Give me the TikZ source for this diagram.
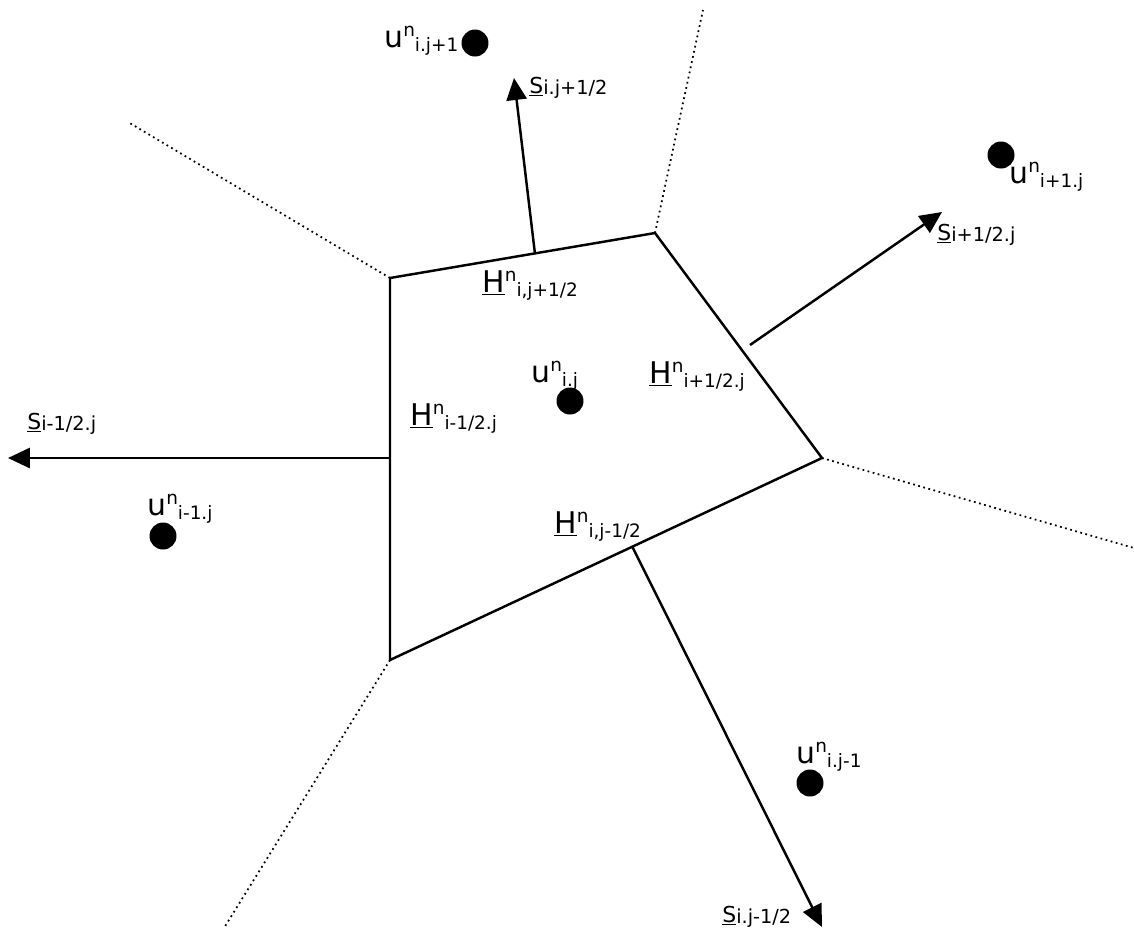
\documentclass[tikz,border=0pt]{standalone}
\usepackage{fontspec}
\setmainfont{DejaVu Sans}
\usetikzlibrary{arrows.meta}
\newcommand{\idxfont}{\fontsize{10.5}{12.5}\selectfont}
\newcommand{\ulab}[1]{u\raisebox{0.36em}{\idxfont n}\raisebox{-0.14em}{\idxfont #1}}
\newcommand{\hlab}[1]{\underline{H}\raisebox{0.36em}{\idxfont n}\raisebox{-0.14em}{\idxfont #1}}
\newcommand{\slab}[1]{{\fontsize{12.5}{14}\selectfont\underline{S}}\raisebox{-0.06em}{\fontsize{11}{13}\selectfont #1}}
\tikzset{
    cellside/.style = {line width=1.4pt,draw=black,line join=miter},
    celldual/.style = {line width=1pt,draw=black,dotted},
    normal/.style = {line width=1.4pt,-{Triangle[length=12.5pt,width=11.5pt]}},
    dot/.style = {circle,fill=black,inner sep=0pt,minimum size=0.54cm},
    lab/.style = {anchor=base west,inner sep=0pt,font=\fontsize{17}{20}\selectfont}
}
\begin{document}
\begin{tikzpicture}[x=0.02cm,y=-0.02cm]
  \useasboundingbox (0,0) rectangle (1134,931);
  % cell corners
  \coordinate (A) at (390,278);
  \coordinate (B) at (655,233);
  \coordinate (C) at (822,458);
  \coordinate (D) at (390,660);
  \draw[cellside] (A) -- (B) -- (C) -- (D) -- cycle;

  % neighbouring faces
  \coordinate (a) at (128,122);
  \coordinate (b) at (703,10);
  \coordinate (c) at (1134,548);
  \coordinate (d) at (224,928);
  \draw[celldual] (A) -- (a);
  \draw[celldual] (B) -- (b);
  \draw[celldual] (C) -- (c);
  \draw[celldual] (D) -- (d);

  % face normals
  \coordinate (nt0) at (535,254);  \coordinate (nt) at (514,78);
  \coordinate (nr0) at (750,345);  \coordinate (nr) at (942,212);
  \coordinate (nl0) at (390,458);  \coordinate (nl) at (8,458);
  \coordinate (nb0) at (632,546);  \coordinate (nb) at (822,927);
  \draw[normal] (nt0) -- (nt);
  \draw[normal] (nr0) -- (nr);
  \draw[normal] (nl0) -- (nl);
  \draw[normal] (nb0) -- (nb);

  % cell values
  \node[dot] at (475,43) (utop) {};
  \node[dot] at (570,401) (umid) {};
  \node[dot] at (1001,155) (uright) {};
  \node[dot] at (163,536) (uleft) {};
  \node[dot] at (810,783) (ubot) {};

  \node[lab] at (384,47) (ltop) {\ulab{i.j+1}};
  \node[lab] at (531,382) (lmid) {\ulab{i.j}};
  \node[lab] at (1009,183) (lright) {\ulab{i+1.j}};
  \node[lab] at (147,515) (lleft) {\ulab{i-1.j}};
  \node[lab] at (796,763) (lbot) {\ulab{i.j-1}};

  \node[lab] at (482,292) (htop) {\hlab{i,j+1/2}};
  \node[lab] at (649,383) (hright) {\hlab{i+1/2.j}};
  \node[lab] at (410,425) (hleft) {\hlab{i-1/2.j}};
  \node[lab] at (554,533) (hbot) {\hlab{i,j-1/2}};

  \node[lab] at (529,93) (stop) {\slab{i.j+1/2}};
  \node[lab] at (937,240) (sright) {\slab{i+1/2.j}};
  \node[lab] at (27,429) (sleft) {\slab{i-1/2.j}};
  \node[lab] at (722,922) (sbot) {\slab{i.j-1/2}};
\end{tikzpicture}
\end{document}
